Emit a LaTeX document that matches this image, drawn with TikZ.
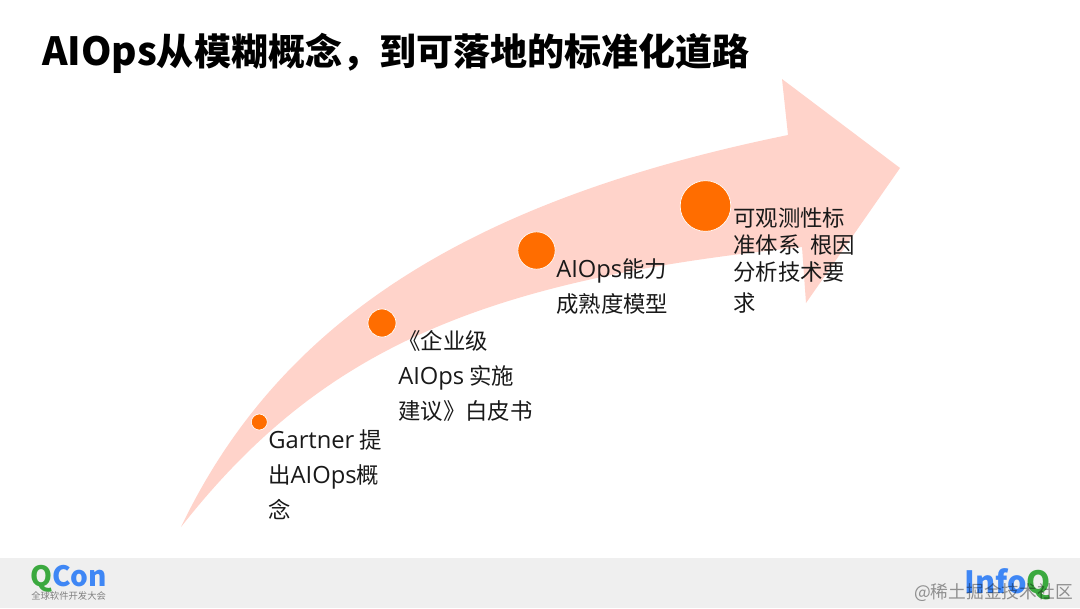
\documentclass[tikz,border=0pt]{standalone}
\usepackage{fontspec}
\setmainfont{Noto Sans CJK SC}
\newfontfamily\latinf[Scale=1.06]{Open Sans}
\newfontfamily\titlat[Scale=1.046]{Noto Sans CJK SC}
\newcommand{\lat}[1]{{\latinf #1}}
\definecolor{arrowpink}{HTML}{FFD3CA}
\definecolor{dotorange}{HTML}{FF6D00}
\definecolor{footgrey}{HTML}{EFEFEF}
\definecolor{qgreen}{HTML}{3BA93F}
\definecolor{qblue}{HTML}{3F87F5}
\tikzset{
  x=0.75pt,y=-0.75pt,
  dot/.style={circle,fill=dotorange,draw=white,line width=0.5pt,inner sep=0pt},
  lbl/.style={anchor=north west,inner sep=0pt,align=left,font=\fontsize{16.8pt}{26.25pt}\selectfont,text=black!90},
}
\begin{document}
\begin{tikzpicture}
\useasboundingbox (0,0) rectangle (1080,608);
\fill[white] (0,0) rectangle (1080,608);
\fill[footgrey] (0,558) rectangle (1080,608);
\fill[arrowpink] (181,527) .. controls (280,320) and (470,200) .. (788,135) -- (782,79) -- (900,168) -- (806,303) -- (802,247) .. controls (480,280) and (320,350) .. (181,527) -- cycle;
\node[anchor=west,inner sep=0pt,font=\bfseries\fontsize{27.8pt}{32pt}\selectfont] (title) at (42,53) {{\titlat\bfseries AIOps}从模糊概念，到可落地的标准化道路};
\node[dot,minimum size=12pt] (d1) at (259.3,422) {};
\node[dot,minimum size=21pt] (d2) at (382,323) {};
\node[dot,minimum size=28pt] (d3) at (536.5,250.5) {};
\node[dot,minimum size=38pt] (d4) at (705.5,206) {};
\node[lbl] (t1) at (268,429) {\lat{Gartner} 提\\出\lat{AIOps}概\\念};
\node[lbl] (t2) at (398,330) {《企业级\\\lat{AIOps} 实施\\建议》白皮书};
\node[lbl] (t3) at (556,258) {\lat{AIOps}能力\\成熟度模型};
\node[lbl] (t4) at (733,207) {可观测性标\\[-5.5pt]准体系\ \ 根因\\[-6pt]分析技术要\\[-3.5pt]求};
\node[anchor=west,inner sep=0pt,font=\bfseries\fontsize{21pt}{22pt}\selectfont,text=qblue] (qc) at (30,578.5) {\textcolor{qgreen}{Q}Con};
\node[anchor=west,inner sep=0pt,font=\fontsize{7pt}{8pt}\selectfont,text=gray] (qs) at (31,596) {全球软件开发大会};
\node[anchor=west,inner sep=0pt,font=\bfseries\fontsize{23pt}{24pt}\selectfont,text=qblue] (iq) at (964,584) {Info\textcolor{qgreen}{Q}};
\node[anchor=east,inner sep=0pt,font=\fontsize{13.3pt}{15pt}\selectfont,text=black,opacity=0.4] (wm) at (1073,592) {@稀土掘金技术社区};
\end{tikzpicture}
\end{document}
